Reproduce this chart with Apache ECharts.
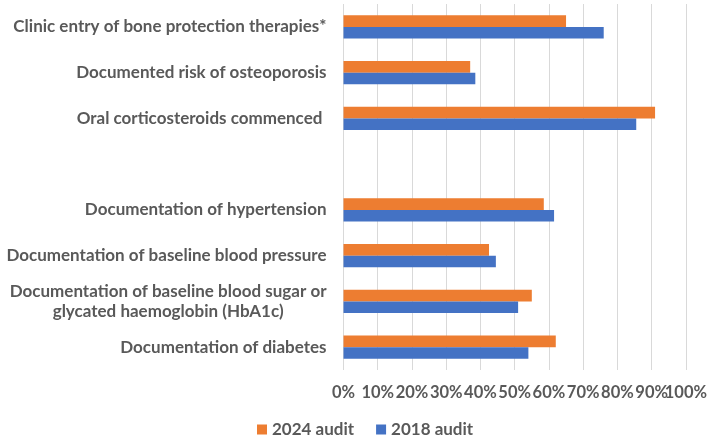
<!DOCTYPE html>
<html>
<head>
<meta charset="utf-8">
<script src="https://cdn.jsdelivr.net/npm/echarts@6/dist/echarts.min.js"></script>
<style>html,body{margin:0;padding:0;background:#fff}#c{width:710px;height:441px}</style>
</head>
<body>
<div id="c"></div>
<script>
const categories = [
  "Clinic entry of bone protection therapies*",
  "Documented risk of osteoporosis",
  "Oral corticosteroids commenced ",
  "",
  "Documentation of hypertension",
  "Documentation of baseline blood pressure",
  "Documentation of baseline blood sugar or\nglycated haemoglobin (HbA1c)",
  "Documentation of diabetes"
];
const seriesNames = ["2024 audit", "2018 audit"];
const audit2024 = [0.65, 0.37, 0.91, null, 0.585, 0.425, 0.55, 0.62];
const audit2018 = [0.76, 0.385, 0.855, null, 0.615, 0.445, 0.51, 0.54];
const xTicks = [0, 0.1, 0.2, 0.3, 0.4, 0.5, 0.6, 0.7, 0.8, 0.9, 1.0];

const txt = '#595959';
const font = 'Lato';
const pct = v => Math.round(v * 100);
function makeX(showEven, primary) {
  return {
    type: 'value',
    position: 'bottom',
    offset: 0,
    min: xTicks[0],
    max: xTicks[xTicks.length - 1],
    interval: 0.1,
    axisLine: { show: false },
    axisTick: { show: false },
    splitLine: { show: primary, lineStyle: { color: '#d9d9d9', width: 1 } },
    axisLabel: {
      margin: 14,
      showMinLabel: true,
      showMaxLabel: true,
      hideOverlap: false,
      color: txt, fontFamily: font, fontWeight: 'bold', fontSize: 16.5,
      formatter: v => ((pct(v) / 10) % 2 === 0) === showEven ? pct(v) + '%' : ''
    }
  };
}
const chart = echarts.init(document.getElementById('c'));
chart.setOption({
  animation: false,
  grid: { left: 343.5, right: 22.7, top: 4, bottom: 71, containLabel: false },
  legend: {
    data: seriesNames,
    bottom: -2,
    left: 252,
    icon: 'rect',
    itemWidth: 10,
    itemHeight: 10,
    itemGap: 22,
    textStyle: { color: txt, fontFamily: font, fontWeight: 'bold', fontSize: 17 }
  },
  xAxis: [makeX(true, true), makeX(false, false)],
  yAxis: {
    type: 'category',
    inverse: true,
    data: categories,
    axisLine: { show: false },
    axisTick: { show: false },
    axisLabel: {
      margin: 17,
      interval: 0,
      formatter: v => v.split('\n').map(l => '{c|' + l + '}').join('\n'),
      rich: { c: { align: 'center', color: txt, fontFamily: font, fontWeight: 'bold', fontSize: 17, lineHeight: 20 } }
    }
  },
  series: [
    { name: seriesNames[0], type: 'bar', xAxisIndex: 0, data: audit2024, itemStyle: { color: '#ED7D31' }, barGap: '0%', barCategoryGap: '49%' },
    { name: seriesNames[1], type: 'bar', xAxisIndex: 0, data: audit2018, itemStyle: { color: '#4472C4' }, barGap: '0%', barCategoryGap: '49%' }
  ]
});
</script>
</body>
</html>
